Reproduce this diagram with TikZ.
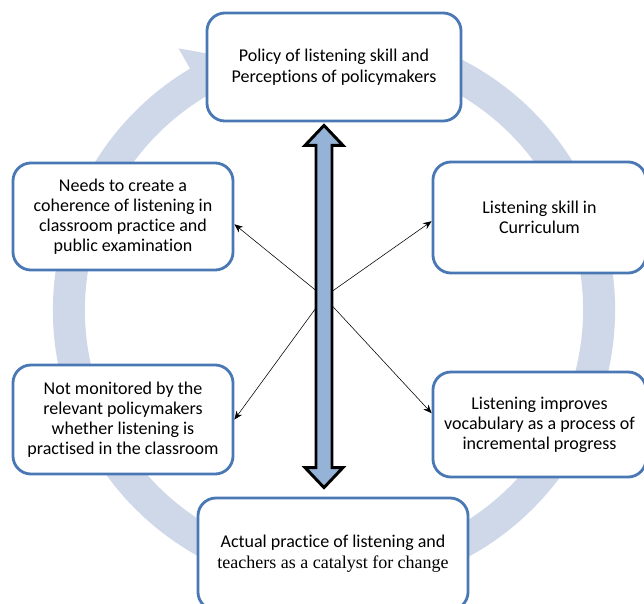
\documentclass[tikz,border=0pt]{standalone}
\usepackage{fontspec}
\setmainfont{Carlito}[Ligatures={NoCommon}]
\newfontfamily\timesfont{Liberation Serif}
\usepackage{xcolor}
\usetikzlibrary{arrows.meta,bending,calc}

\definecolor{boxline}{HTML}{4A78B4}
\definecolor{ringblue}{HTML}{CFD8E9}
\definecolor{shaftblue}{HTML}{95B3D7}

\begin{document}
\begin{tikzpicture}[x=0.025cm, y=-0.025cm, box/.style={draw=boxline, line width=2pt, rounded corners=0.45cm, fill=white, align=center, inner sep=0pt, font=\fontsize{12.8}{14.2}\selectfont}, ring/.style={line width=0.8cm, ringblue, -{Triangle[bend, width=1.9cm, length=1.15cm]}}, link/.style={-{Stealth[length=6pt, width=5pt]}, thin}, dbl/.style={draw=black, line width=2.1pt, fill=shaftblue, line join=miter}]
\useasboundingbox (0,0) rectangle (644,604);
\clip (0,0) rectangle (644,604);
% big ring behind everything
\coordinate (ctr) at (334,310);
\draw[ring] (ctr) ++(80:6.625cm) arc[start angle=80, end angle=-249, radius=6.625cm];
% the six boxes
\node[box, minimum width=6.35cm, minimum height=2.7cm] (policy) at (334,67) {Policy of listening skill and\\[1pt]Perceptions of policymakers};
\node[box, minimum width=5.5cm, minimum height=2.675cm] (needs) at (123,216.5) {Needs to create a\\coherence of listening in\\classroom practice and\\public examination};
\node[box, minimum width=5.325cm, minimum height=2.775cm] (curr) at (539.5,217.5) {Listening skill in\\Curriculum};
\node[box, minimum width=5.5cm, minimum height=2.725cm] (monit) at (123,419.5) {Not monitored by the\\relevant policymakers\\whether listening is\\practised in the classroom};
\node[box, minimum width=5.325cm, minimum height=2.625cm] (vocab) at (539.5,424.5) {Listening improves\\vocabulary as a process of\\incremental progress};
\node[box, minimum width=6.75cm, minimum height=2.8cm] (practice) at (333,554) {Actual practice of listening and\\[1pt]{\timesfont teachers as a catalyst for change}};
% crossing links
\coordinate (hub) at (324,297);
\draw[link] (hub) -- (needs.-4);
\draw[link] (hub) -- (curr.182);
\draw[link] (hub) -- (monit.east);
\draw[link] (hub) -- (vocab.174);
% double arrow between top and bottom
\coordinate (atop) at ($(policy.south)+(-10,3)$);
\coordinate (abot) at ($(practice.north)+(-9,-9)$);
\draw[dbl] (atop) -- ++(19,20) -- ++(-11,0) -- ($(abot)+(8,-20)$) -- ++(11,0) -- (abot) -- ++(-19,-20) -- ++(11,0) -- ($(atop)+(-8,20)$) -- ++(-11,0) -- cycle;
\end{tikzpicture}
\end{document}
